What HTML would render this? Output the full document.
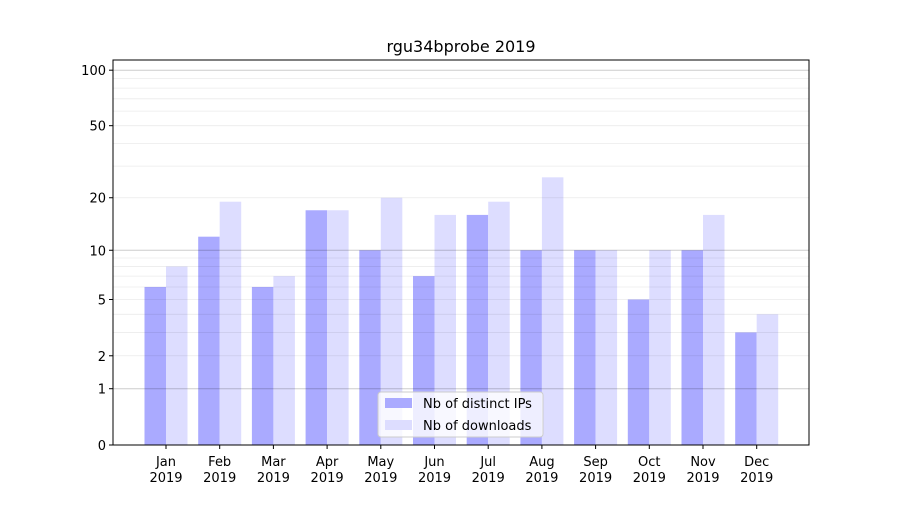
<!DOCTYPE html>
<html><head><meta charset="utf-8"><style>
body{margin:0;background:#fff;font-family:"Liberation Sans","DejaVu Sans",sans-serif;}
svg text{font-family:"DejaVu Sans","Liberation Sans",sans-serif;}
</style></head><body>
<svg id="chart" width="900" height="500" xmlns="http://www.w3.org/2000/svg">
<rect width="900" height="500" fill="#fff"/>
<text x="461" y="52" font-size="16" text-anchor="middle">rgu34bprobe 2019</text>
<g id="bars"></g><g id="grid"></g><g id="axes"></g>
</svg>
<script>
const categories=["Jan","Feb","Mar","Apr","May","Jun","Jul","Aug","Sep","Oct","Nov","Dec"];
const distinctIPs=[6,12,6,17,10,7,16,10,10,5,10,3];
const downloads=[8,19,7,17,20,16,19,26,10,10,16,4];
const yTicks=[0,1,2,5,10,20,50,100];
const NS="http://www.w3.org/2000/svg";
const L=113,R=809,T=60,B=445;
const yMax=113.5;
function t(v){return Math.log10(1+v);}
function y(v){return B-(B-T)*t(v)/t(yMax);}
function xc(i){return 166+i*53.7;}
function mk(tag,attrs,parent){const e=document.createElementNS(NS,tag);for(const k in attrs)e.setAttribute(k,attrs[k]);parent.appendChild(e);return e;}
const grid=document.getElementById('grid'),bars=document.getElementById('bars'),axes=document.getElementById('axes');
[2,3,4,5,6,7,8,9,20,30,40,50,60,70,80,90].forEach(v=>{
 const g=mk('line',{x1:L,x2:R,y1:y(v),y2:y(v),stroke:'#000','stroke-opacity':0.08,'stroke-width':0.8},grid);
 
 
});
[1,10,100].forEach(v=>{
 const g=mk('line',{x1:L,x2:R,y1:y(v),y2:y(v),stroke:'#000','stroke-opacity':0.2,'stroke-width':1},grid);
 
 
});
categories.forEach((c,i)=>{
 const x=xc(i);
 const b1=mk('rect',{x:x-21.5,y:y(distinctIPs[i]),width:21.5,height:B-y(distinctIPs[i]),fill:'#aaaaff'},bars);
 
 
 const b2=mk('rect',{x:x,y:y(downloads[i]),width:21.5,height:B-y(downloads[i]),fill:'#ddddff'},bars);
 
 
 mk('line',{x1:x,x2:x,y1:B,y2:B+4,stroke:'#000'},axes);
 const tl=mk('text',{x:x,y:B+21,'font-size':13,'text-anchor':'middle'},axes);
 tl.textContent=c;
 
 
 const t2=mk('text',{x:x,y:B+37,'font-size':13,'text-anchor':'middle'},axes);
 t2.textContent='2019';
 
 
});
yTicks.forEach(v=>{
 mk('line',{x1:L-4,x2:L,y1:y(v),y2:y(v),stroke:'#000'},axes);
 const tl=mk('text',{x:L-7,y:y(v)+5,'font-size':13,'text-anchor':'end'},axes);
 tl.textContent=v;
 
 
});
const fr=mk('rect',{x:L,y:T,width:R-L,height:B-T,fill:'none',stroke:'#000','stroke-width':1},axes);


const lg=mk('g',{},axes);


mk('rect',{x:378,y:392,width:165,height:45,rx:3,fill:'#fff','fill-opacity':0.8,stroke:'#ccc'},lg);
mk('rect',{x:385,y:398,width:27,height:10,fill:'#aaaaff'},lg);
mk('rect',{x:385,y:420,width:27,height:10,fill:'#ddddff'},lg);
const l1=mk('text',{x:423,y:408,'font-size':13},lg);l1.textContent='Nb of distinct IPs';


const l2=mk('text',{x:423,y:430,'font-size':13},lg);l2.textContent='Nb of downloads';


</script>
</body></html>
